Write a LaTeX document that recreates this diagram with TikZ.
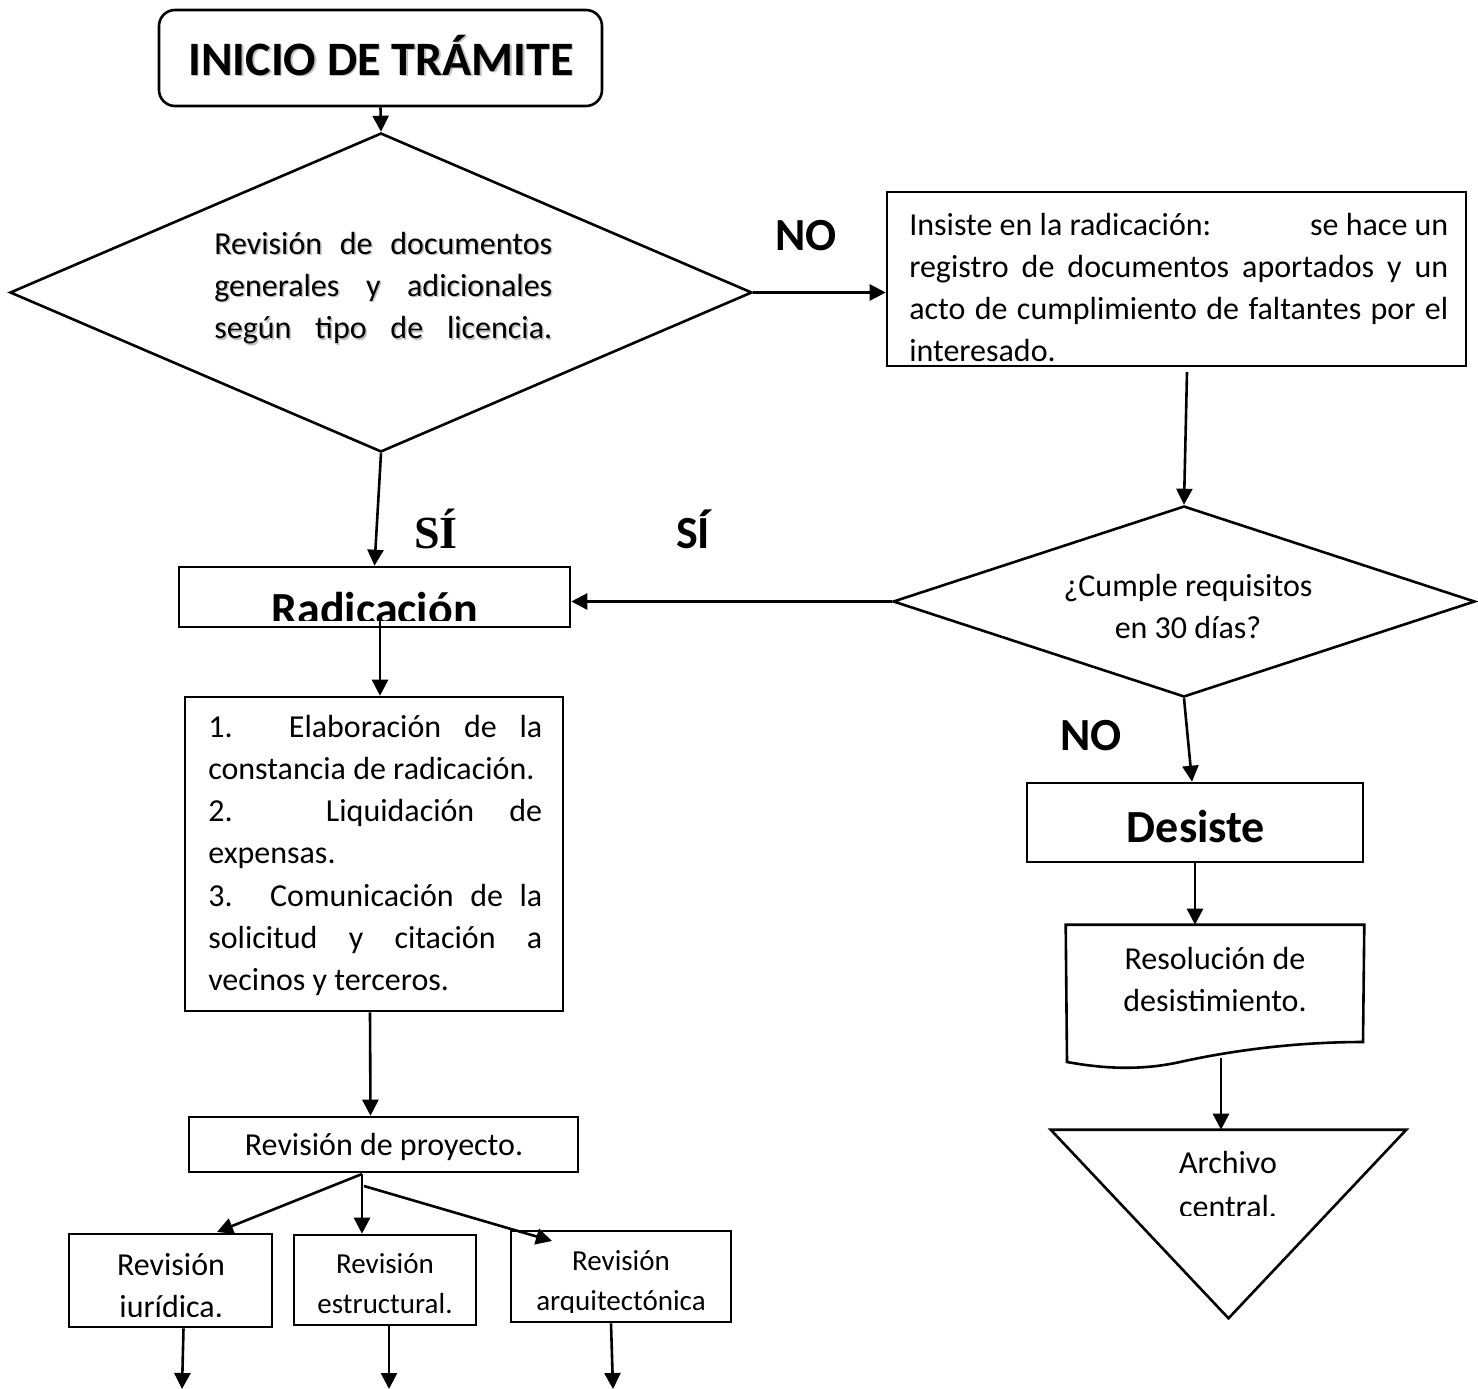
\documentclass[tikz,border=0pt]{standalone}
\usepackage{fontspec}
\setmainfont{Carlito}
\newfontfamily\timesf{Liberation Serif}
\usetikzlibrary{arrows.meta,shapes.geometric,calc}
\begin{document}
\begin{tikzpicture}[x=1pt,y=-1pt,
  line width=2.6pt,
  box/.style={draw,rectangle,inner sep=0pt,line width=2.6pt},
  ghost/.style={rectangle,inner sep=0pt},
  dia/.style={draw,diamond,inner sep=0pt,line width=2.6pt},
  conn/.style={line width=2.6pt,-{Triangle[length=16pt,width=16pt]}},
  body/.style={inner sep=0pt,font=\fontsize{32}{42.3}\selectfont},
  small/.style={inner sep=0pt,font=\fontsize{29}{40}\selectfont},
  big/.style={inner sep=0pt,font=\fontsize{46}{54}\selectfont\bfseries},
  shadowtxt/.style={text=black!25}]
\fill[white] (0,0) rectangle (1478,1389);
\useasboundingbox (0,0) rectangle (1478,1389);

% ---------- shapes ----------
\node[box,rounded corners=16pt,minimum width=443pt,minimum height=96pt] (inicio) at (380.5,58) {};
\node[dia,minimum width=742pt,minimum height=319pt] (d1) at (381,292.5) {};
\node[box,minimum width=579pt,minimum height=174pt] (ins) at (1176.5,279) {};
\node[dia,minimum width=582pt,minimum height=191pt] (d2) at (1184,601.5) {};
\node[box,minimum width=391pt,minimum height=60pt] (rad) at (374.5,597) {};
\node[box,minimum width=378pt,minimum height=314pt] (lst) at (374,854) {};
\node[box,minimum width=389pt,minimum height=55pt] (proy) at (383.5,1144.5) {};
\node[box,minimum width=203pt,minimum height=93pt] (jur) at (170.5,1280.5) {};
\node[box,minimum width=182pt,minimum height=90pt] (est) at (385,1280) {};
\node[box,minimum width=220pt,minimum height=91pt] (arq) at (621,1276.5) {};
\node[box,minimum width=336pt,minimum height=79pt] (des) at (1195,822.5) {};
\node[ghost,minimum width=296pt,minimum height=143pt] (res) at (1215,997.5) {};
\draw (res.north west) -- (res.north east) -- (1363,1042)
  .. controls (1290,1042) and (1225,1052) .. (1180,1062)
  .. controls (1135,1072) and (1095,1067) .. (1067,1062) -- cycle;
\node[ghost,minimum width=353pt,minimum height=186pt] (arch) at (1228.5,1224) {};
\draw (arch.north west) -- (arch.north east) -- (arch.south) -- cycle;

% ---------- texts ----------
\node[big,anchor=base,shadowtxt,font=\fontsize{48}{56}\selectfont\bfseries] (inicio-s) at (382.5,76.5) {INICIO DE TRÁMITE};
\node[big,anchor=base,font=\fontsize{48}{56}\selectfont\bfseries] (inicio-t) at (381,75) {INICIO DE TRÁMITE};

\node[body,anchor=base west,shadowtxt] (d1-s) at (214.5,255.5) {\parbox[t]{338pt}{%
\makebox[\linewidth][s]{Revisión de documentos}\\
\makebox[\linewidth][s]{generales y adicionales}\\
\makebox[\linewidth][s]{según tipo de licencia.}}};
\node[body,anchor=base west] (d1-t) at (213,254) {\parbox[t]{338pt}{%
\makebox[\linewidth][s]{Revisión de documentos}\\
\makebox[\linewidth][s]{generales y adicionales}\\
\makebox[\linewidth][s]{según tipo de licencia.}}};

\node[big,anchor=base] (no1) at (806,250) {NO};
\node[body,anchor=base west] (ins-t) at (908,235) {\parbox[t]{539pt}{%
\makebox[\linewidth][s]{Insiste en la radicación:\hfill se hace un}\\
\makebox[\linewidth][s]{registro de documentos aportados y un}\\
\makebox[\linewidth][s]{acto de cumplimiento de faltantes por el}\\
interesado.}};

\node[body,anchor=base] (d2-t) at (1188,596) {\parbox[t]{300pt}{\centering
¿Cumple requisitos\\ en 30 días?}};

\node[anchor=base,inner sep=0pt,font=\fontsize{46}{54}\selectfont\timesf\bfseries] (si1) at (436,548) {SÍ};
\node[big,anchor=base] (si2) at (693,548) {SÍ};

\begin{scope}
\clip (rad.north west) rectangle ($(rad.east)+(0,23)$);
\node[big,anchor=base] (rad-t) at (374.5,624) {Radicación};
\end{scope}

\node[body,anchor=base west] (lst-t) at (207,737) {\parbox[t]{334pt}{%
\makebox[\linewidth][s]{1. Elaboración de la}\\
constancia de radicación.\\
\makebox[\linewidth][s]{2. Liquidación de}\\
expensas.\\
\makebox[\linewidth][s]{3. Comunicación de la}\\
\makebox[\linewidth][s]{solicitud y citación a}\\
vecinos y terceros.}};

\node[body,anchor=base] (proy-t) at (384,1155) {Revisión de proyecto.};

\begin{scope}
\clip (jur.north west) rectangle (272,1316);
\node[body,anchor=base] (jur-t) at (171,1275) {\parbox[t]{200pt}{\centering
Revisión\\ jurídica.}};
\end{scope}
\node[small,anchor=base] (est-t) at (385,1273) {\parbox[t]{180pt}{\centering
Revisión\\ estructural.}};
\begin{scope}
\clip (arq.north west) rectangle (731,1312);
\node[small,anchor=base] (arq-t) at (621,1270) {\parbox[t]{218pt}{\centering
Revisión\\ arquitectónica}};
\end{scope}

\node[big,anchor=base] (no2) at (1091,750) {NO};
\node[big,anchor=base] (des-t) at (1196,842) {Desiste};
\node[body,anchor=base] (res-t) at (1215,969) {\parbox[t]{290pt}{\centering
Resolución de\\ desistimiento.}};
\begin{scope}
\clip (arch.north west) rectangle (1405,1215);
\node[inner sep=0pt,font=\fontsize{32}{44}\selectfont,anchor=base] (arch-t) at (1228,1173) {\parbox[t]{290pt}{\centering
Archivo\\ central.}};
\end{scope}

% ---------- connectors ----------
\coordinate (insout) at (1187,372);
\coordinate (radout) at (380,620);
\coordinate (fan) at (362,1174);
\coordinate (fan2) at (364,1186);
\coordinate (resout) at (1221,1058);
\coordinate (jb) at (182,1389);
\coordinate (eb) at (389,1389);
\coordinate (ab) at (613,1389);

\draw[conn] (inicio.south) -- (d1.north);
\draw[conn] (d1.east) -- (ins.west |- d1.east);
\draw[conn] (d1.south) -- (rad.north);
\draw[conn] (insout) -- (d2.north);
\draw[conn] (d2.west) -- (rad.east |- d2.west);
\draw[conn] (radout) -- (lst.north -| radout);
\draw[conn] ($(lst.south)+(-4,0)$) -- ($(proy.north)+(-13,0)$);
\draw[conn] (fan) -- (217,1232);
\draw[conn] (fan) -- (fan |- est.north);
\draw[conn] (fan2) -- (552,1241);
\draw[conn] (d2.south) -- ($(des.north)+(-3,0)$);
\draw[conn] (des.south) -- (des.south |- res.north);
\draw[conn] (resout) -- (resout |- arch.north);
\draw[conn] ($(jur.south)+(13,0)$) -- (jb);
\draw[conn] ($(est.south)+(4,0)$) -- (eb);
\draw[conn] ($(arq.south)+(-10,0)$) -- (ab);
\end{tikzpicture}
\end{document}
